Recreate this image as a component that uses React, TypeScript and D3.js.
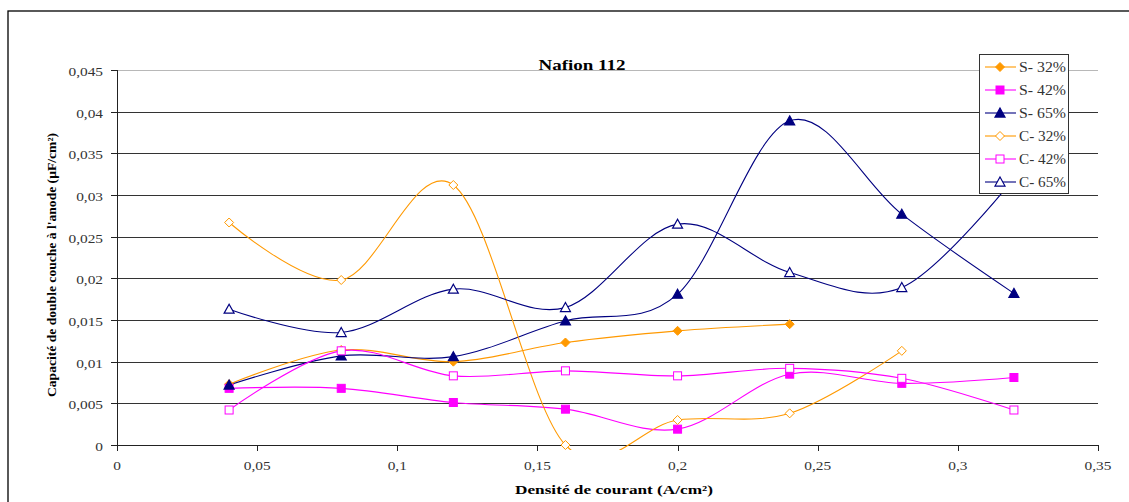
import React from "react";
import * as d3 from "d3";

const xValues = [0.04, 0.08, 0.12, 0.16, 0.2, 0.24, 0.28, 0.32];
const s32 = [0.0073, 0.0114, 0.01, 0.0123, 0.0137, 0.0145];
const s42 = [0.0068, 0.0068, 0.0051, 0.0043, 0.0019, 0.0085, 0.0074, 0.0081];
const s65 = [0.0072, 0.0107, 0.0106, 0.0149, 0.0181, 0.0389, 0.0277, 0.0182];
const c32 = [0.0267, 0.0198, 0.0312, 0.0, 0.003, 0.0038, 0.0113];
const c42 = [0.0042, 0.0113, 0.0083, 0.0089, 0.0083, 0.0092, 0.008, 0.0042];
const c65 = [0.0163, 0.0135, 0.0187, 0.0165, 0.0265, 0.0207, 0.0189, 0.032];

const seriesNames = ["S- 32%", "S- 42%", "S- 65%", "C- 32%", "C- 42%", "C- 65%"];
const xTicks = [0, 0.05, 0.1, 0.15, 0.2, 0.25, 0.3, 0.35];
const yTicks = [0, 0.005, 0.01, 0.015, 0.02, 0.025, 0.03, 0.035, 0.04, 0.045];

const ORANGE = "#FF9900";
const MAGENTA = "#FF00FF";
const NAVY = "#000080";

type Shape = "diamond" | "square" | "triangle";
const series: { name: string; values: number[]; color: string; shape: Shape; filled: boolean }[] = [
  { name: seriesNames[0], values: s32, color: ORANGE, shape: "diamond", filled: true },
  { name: seriesNames[1], values: s42, color: MAGENTA, shape: "square", filled: true },
  { name: seriesNames[2], values: s65, color: NAVY, shape: "triangle", filled: true },
  { name: seriesNames[3], values: c32, color: ORANGE, shape: "diamond", filled: false },
  { name: seriesNames[4], values: c42, color: MAGENTA, shape: "square", filled: false },
  { name: seriesNames[5], values: c65, color: NAVY, shape: "triangle", filled: false },
];

const fmt = (v: number) => String(v).replace(".", ",");

function Marker({ x, y, shape, color, filled }: { x: number; y: number; shape: Shape; color: string; filled: boolean }) {
  const fill = filled ? color : "#fff";
  if (shape === "diamond") {
    const r = 4.5;
    return <path d={`M${x},${y - r}L${x + r},${y}L${x},${y + r}L${x - r},${y}Z`} fill={fill} stroke={color} strokeWidth={1} />;
  }
  if (shape === "square") {
    const r = 4;
    return <rect x={x - r} y={y - r} width={2 * r} height={2 * r} fill={fill} stroke={color} strokeWidth={1} />;
  }
  const h = 9, w = 10;
  return <path d={`M${x},${y - h * 0.55}L${x + w / 2},${y + h * 0.45}L${x - w / 2},${y + h * 0.45}Z`} fill={fill} stroke={color} strokeWidth={1.2} />;
}

const FONT = "'Liberation Serif', 'Times New Roman', serif";

export default function App() {
  const left = 117, right = 1098, top = 70, bottom = 445;
  const x = d3.scaleLinear().domain([0, 0.35]).range([left, right]);
  const y = d3.scaleLinear().domain([0, 0.045]).range([bottom, top]);
  const line = d3
    .line<[number, number]>()
    .x((d) => x(d[0]))
    .y((d) => y(d[1]))
    .curve(d3.curveCardinal.tension(0));

  const sx = 1.28;
  const tStyle = { fontFamily: FONT };

  const legendX = 979, legendY = 54, legendW = 89, legendH = 139;
  const rowY = (i: number) => 67 + i * 23;

  return (
    <svg width={1129} height={502} style={{ position: "absolute", left: 0, top: 0, background: "#fff", fontFamily: FONT }}>
      <defs>
        <clipPath id="plotclip">
          <rect x={left} y={top - 10} width={right - left} height={bottom - top + 15} />
        </clipPath>
      </defs>
      <rect x={8} y={11} width={1300} height={700} fill="#fff" stroke="#000" strokeWidth={1.3} />

      {yTicks.map((t) => (
        <line key={"g" + t} x1={left} x2={right} y1={Math.round(y(t)) + 0.5} y2={Math.round(y(t)) + 0.5}
          stroke={t === 0.045 ? "#b8b8b8" : t === 0 ? "#222" : "#333"} strokeWidth={1} />
      ))}
      <line x1={left + 0.5} x2={left + 0.5} y1={top} y2={bottom} stroke="#222" />
      {yTicks.map((t) => (
        <g key={"yt" + t}>
          <line x1={left - 6} x2={left} y1={Math.round(y(t)) + 0.5} y2={Math.round(y(t)) + 0.5} stroke="#222" />
          <text style={tStyle} transform={`translate(${left - 14},${y(t) + 6}) scale(${sx},1)`} textAnchor="end" fontSize={12} fill="#333">
            {fmt(t)}
          </text>
        </g>
      ))}
      {xTicks.map((t) => (
        <g key={"xt" + t}>
          <line x1={Math.round(x(t)) + 0.5} x2={Math.round(x(t)) + 0.5} y1={bottom} y2={bottom + 6} stroke="#222" />
          <text style={tStyle} transform={`translate(${x(t)},${470}) scale(${sx},1)`} textAnchor="middle" fontSize={12} fill="#333">
            {fmt(t)}
          </text>
        </g>
      ))}

      <g clipPath="url(#plotclip)">
        {series.map((s) => {
          const pts = s.values.map((v, i) => [xValues[i], v] as [number, number]);
          return <path key={"l" + s.name} d={line(pts) || ""} fill="none" stroke={s.color} strokeWidth={1.1} />;
        })}
      </g>
      {series.map((s) => (
        <g key={"m" + s.name}>
          {s.values.map((v, i) => (
            <Marker key={i} x={x(xValues[i])} y={y(v)} shape={s.shape} color={s.color} filled={s.filled} />
          ))}
        </g>
      ))}

      <text style={tStyle} x={582} y={70} textAnchor="middle" fontSize={15} fontWeight="bold" fill="#000" textLength={87} lengthAdjust="spacingAndGlyphs">
        Nafion 112
      </text>
      <text style={tStyle} x={614} y={494} textAnchor="middle" fontSize={13} fontWeight="bold" fill="#000" textLength={198} lengthAdjust="spacingAndGlyphs">
        Densité de courant (A/cm²)
      </text>
      <text style={tStyle} transform="translate(56,265) rotate(-90)" textAnchor="middle" fontSize={13} fontWeight="bold" fill="#000" textLength={264} lengthAdjust="spacingAndGlyphs">
        Capacité de double couche à l'anode (µF/cm²)
      </text>

      <rect x={legendX + 0.5} y={legendY + 0.5} width={legendW} height={legendH} fill="#fff" stroke="#333" strokeWidth={1} />
      {series.map((s, i) => (
        <g key={"lg" + s.name}>
          <line x1={985} x2={1016} y1={rowY(i)} y2={rowY(i)} stroke={s.color} strokeWidth={1.1} />
          <Marker x={1000} y={rowY(i)} shape={s.shape} color={s.color} filled={s.filled} />
          <text style={tStyle} x={1019} y={rowY(i) + 5} fontSize={14} fill="#333" textLength={47} lengthAdjust="spacingAndGlyphs">
            {s.name}
          </text>
        </g>
      ))}
    </svg>
  );
}
